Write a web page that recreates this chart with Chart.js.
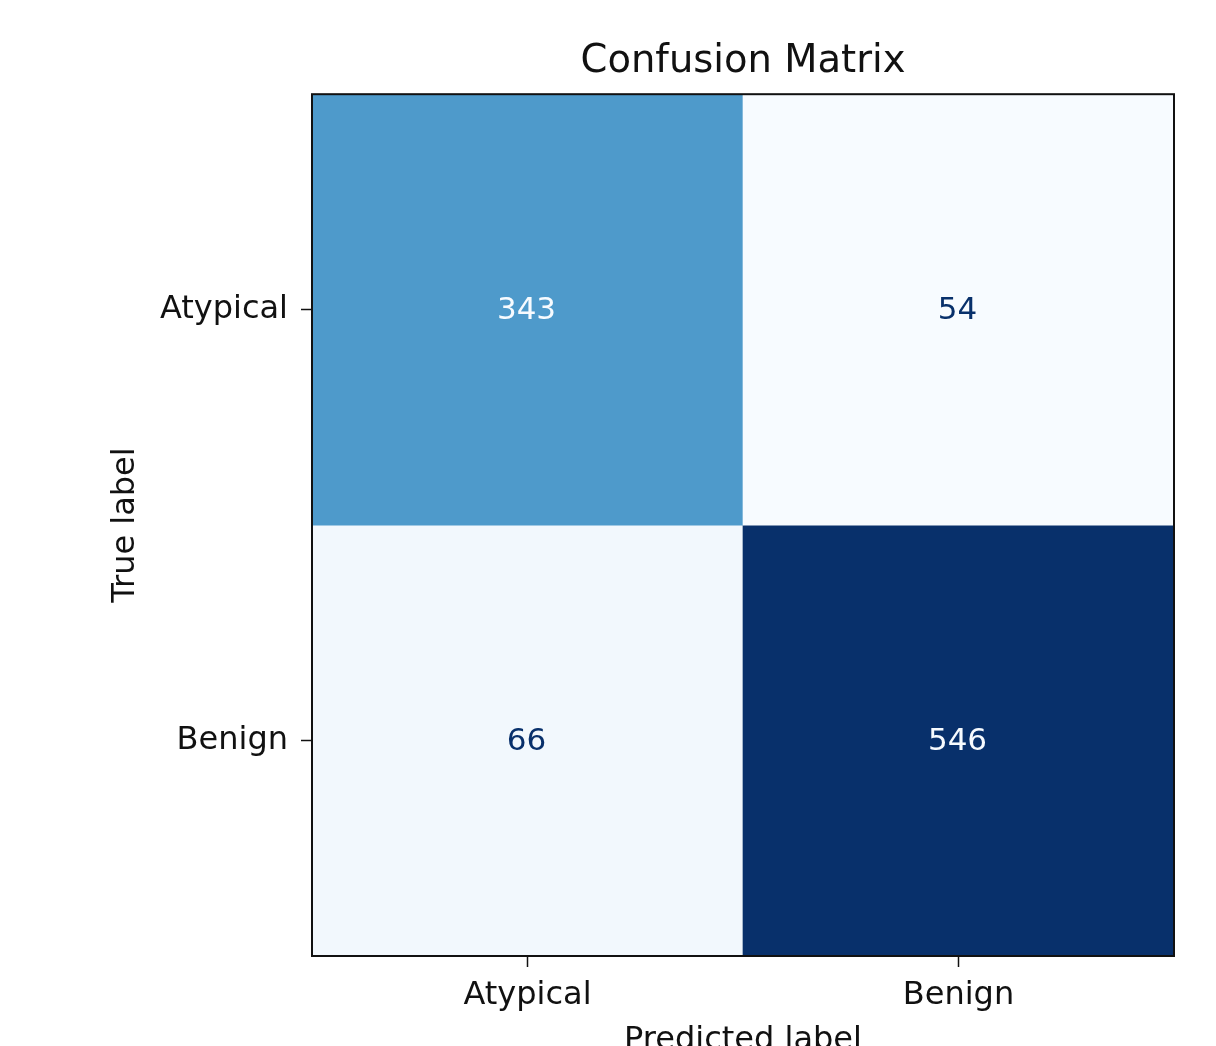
<!DOCTYPE html>
<html>
<head>
<meta charset="utf-8">
<title>Confusion Matrix</title>
<script src="https://cdn.jsdelivr.net/npm/chart.js@4.4.0/dist/chart.umd.min.js"></script>
<style>
  html, body { margin: 0; padding: 0; background: #ffffff; overflow: hidden; }
  #cm { display: block; }
</style>
</head>
<body>
<canvas id="cm" width="1216" height="1075"></canvas>
<script>
// Class names (shared by both axes) and the counts per true-label row.
const classLabels = ['Atypical', 'Benign'];
const trueAtypicalCounts = [343, 54];   // predicted: Atypical, Benign
const trueBenignCounts = [66, 546];     // predicted: Atypical, Benign
const matrixRows = [trueAtypicalCounts, trueBenignCounts];

// "Blues" sequential colour map anchors (light -> dark).
const bluesStops = [
  [247, 251, 255], [222, 235, 247], [198, 219, 239], [158, 202, 225],
  [107, 174, 214], [66, 146, 198], [33, 113, 181], [8, 81, 156], [8, 48, 107]
];
function blues(t) {
  t = Math.max(0, Math.min(1, t));
  const pos = t * (bluesStops.length - 1);
  const i = Math.min(Math.floor(pos), bluesStops.length - 2);
  const f = pos - i;
  const a = bluesStops[i], b = bluesStops[i + 1];
  const c = a.map((v, k) => Math.round(v + (b[k] - v) * f));
  return `rgb(${c[0]},${c[1]},${c[2]})`;
}

const allCounts = matrixRows.flat();
const vmin = Math.min(...allCounts);
const vmax = Math.max(...allCounts);
const norm = v => (v - vmin) / (vmax - vmin);
const textThreshold = (vmax + vmin) / 2;

const FONT = 'DejaVu Sans';

// One floating-bar dataset per true-label row; each bar spans [row, row + 1].
const datasets = matrixRows.map((counts, row) => ({
  label: classLabels[row],
  data: counts.map(() => [row, row + 1]),
  counts: counts,
  backgroundColor: counts.map(v => blues(norm(v))),
  borderWidth: 0,
  borderSkipped: false,
  barPercentage: 1,
  categoryPercentage: 1,
  grouped: false
}));

// Cell values and the surrounding frame.
const cellLabels = {
  id: 'cellLabels',
  afterDatasetsDraw(chart) {
    const ctx = chart.ctx;
    ctx.save();
    ctx.font = `31px "${FONT}"`;
    ctx.textAlign = 'center';
    ctx.textBaseline = 'middle';
    chart.data.datasets.forEach((ds, di) => {
      const meta = chart.getDatasetMeta(di);
      meta.data.forEach((el, i) => {
        const v = ds.counts[i];
        const p = el.getCenterPoint();
        ctx.fillStyle = v > textThreshold ? blues(0) : blues(1);
        ctx.fillText(String(v), p.x - 1, p.y + 1);
      });
    });
    const a = chart.chartArea;
    ctx.strokeStyle = '#111111';
    ctx.lineWidth = 2;
    ctx.strokeRect(a.left, a.top, a.right - a.left, a.bottom - a.top);
    ctx.restore();
  }
};

new Chart(document.getElementById('cm'), {
  type: 'bar',
  data: { labels: classLabels, datasets },
  options: {
    responsive: false,
    animation: false,
    layout: { padding: { top: 0, right: 42, bottom: 0, left: 0 } },
    plugins: {
      legend: { display: false },
      tooltip: { enabled: false },
      title: {
        display: true,
        text: 'Confusion Matrix',
        fullSize: false,
        color: '#111111',
        font: { family: FONT, size: 38.5, weight: 'normal', lineHeight: 1.2 },
        padding: { top: 39, bottom: 9 }
      }
    },
    scales: {
      x: {
        type: 'category',
        offset: true,
        border: { display: false },
        grid: {
          offset: false,
          drawOnChartArea: false,
          drawTicks: true,
          tickLength: 11,
          tickWidth: 1.5,
          tickColor: '#111111'
        },
        ticks: {
          color: '#111111',
          padding: 9,
          font: { family: FONT, size: 32, lineHeight: 1.2 }
        },
        title: {
          display: true,
          text: 'Predicted label',
          color: '#111111',
          font: { family: FONT, size: 32, lineHeight: 1.2 },
          padding: { top: 0, bottom: 15 }
        },
        afterFit(scale) { scale.height = 1075 - 956; }
      },
      y: {
        type: 'linear',
        min: 0,
        max: classLabels.length,
        reverse: true,
        border: { display: false },
        grid: {
          drawOnChartArea: false,
          drawTicks: true,
          tickLength: 11,
          tickWidth: 1.5,
          tickColor: '#111111'
        },
        afterBuildTicks(scale) {
          scale.ticks = classLabels.map((_, i) => ({ value: i + 0.5 }));
        },
        ticks: {
          color: '#111111',
          padding: 13,
          font: { family: FONT, size: 32, lineHeight: 1.2 },
          callback: v => classLabels[Math.round(v - 0.5)]
        },
        title: {
          display: true,
          text: 'True label',
          color: '#111111',
          font: { family: FONT, size: 32, lineHeight: 1.2 },
          padding: { top: 106, bottom: 0 }
        },
        afterFit(scale) { scale.width = 312; }
      }
    }
  },
  plugins: [cellLabels]
});
</script>
</body>
</html>
